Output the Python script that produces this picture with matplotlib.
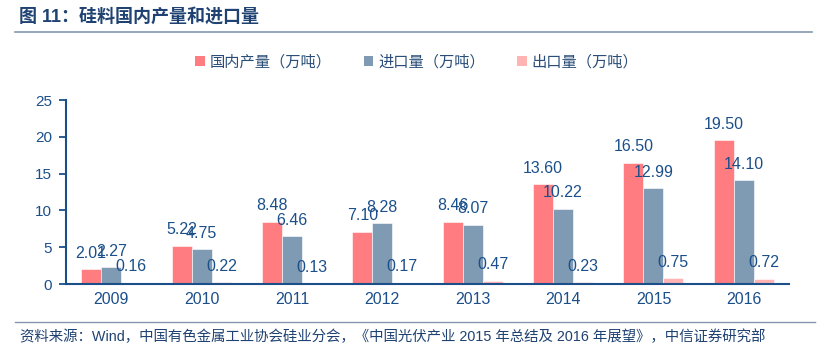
import numpy as np
import matplotlib
matplotlib.use('Agg')
import matplotlib.pyplot as plt
from matplotlib.lines import Line2D
from matplotlib.patches import Patch

plt.rcParams['font.family'] = ['Liberation Sans', 'Noto Sans CJK SC', 'DejaVu Sans']

years = ['2009', '2010', '2011', '2012', '2013', '2014', '2015', '2016']
domestic = [2.01, 5.22, 8.48, 7.10, 8.46, 13.60, 16.50, 19.50]
imports = [2.27, 4.75, 6.46, 8.28, 8.07, 10.22, 12.99, 14.10]
exports = [0.16, 0.22, 0.13, 0.17, 0.47, 0.23, 0.75, 0.72]
series_names = ['国内产量（万吨）', '进口量（万吨）', '出口量（万吨）']

title = '图 11：硅料国内产量和进口量'
source = '资料来源：Wind，中国有色金属工业协会硅业分会，《中国光伏产业 2015 年总结及 2016 年展望》，中信证券研究部'

blue = '#1B4F8A'
colors = ['#FF7C80', '#7F9AB3', '#FFB3B3']

fig = plt.figure(figsize=(8.22, 3.53), dpi=100)
ax = fig.add_axes([66 / 822, 1 - 284 / 353, 723 / 822, 184 / 353])

x = np.arange(len(years))
w = 0.221
for k, vals in enumerate([domestic, imports, exports]):
    pos = x + (k - 1) * w
    ax.bar(pos, vals, width=w, color=colors[k], edgecolor='white', linewidth=0.4)
    for xp, v in zip(pos, vals):
        ax.annotate('%.2f' % v, (xp, v), xytext=(0, 6), textcoords='offset points',
                    ha='center', va='bottom', fontsize=11.5, color=blue)

ax.set_xlim(-0.5, 7.5)
ax.set_ylim(0, 25)
ax.set_yticks([0, 5, 10, 15, 20, 25])
ax.set_xticks(x)
ax.set_xticklabels(years)
ax.tick_params(axis='y', direction='out', length=5, width=1.3, color=blue,
               labelcolor=blue, labelsize=11, pad=5)
ax.tick_params(axis='x', length=0, labelcolor=blue, labelsize=11.5, pad=6)
for s in ['top', 'right']:
    ax.spines[s].set_visible(False)
for s in ['left', 'bottom']:
    ax.spines[s].set_color(blue)
    ax.spines[s].set_linewidth(1.5)

handles = [Patch(facecolor=c, edgecolor='none') for c in colors]
fig.legend(handles, series_names, loc='center', bbox_to_anchor=(417 / 822, 1 - 62 / 353),
           ncol=3, frameon=False, fontsize=11, labelcolor='#2A4E78',
           handlelength=0.6, handleheight=0.6, handletextpad=0.35, columnspacing=2.1)

fig.text(19 / 822, 1 - 17 / 353, title, fontsize=13, color='#1F4272',
         fontweight='bold', va='center', ha='left')
fig.add_artist(Line2D([15 / 822, 812 / 822], [1 - 32 / 353] * 2, color='#8497B0', linewidth=1.2))
fig.add_artist(Line2D([15 / 822, 815 / 822], [1 - 322 / 353] * 2, color='#8497B0', linewidth=1.0))
fig.text(20 / 822, 1 - 337 / 353, source, fontsize=10.4, color='#1F4272', va='center', ha='left')

fig.savefig('out.png', dpi=100)
